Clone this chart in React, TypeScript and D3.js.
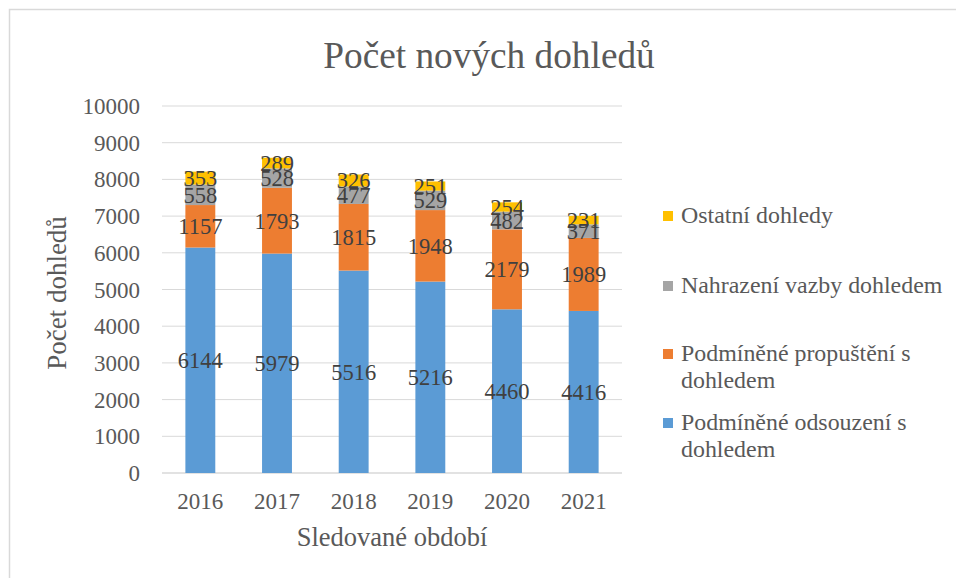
import React from "react";
import * as d3 from "d3";

const years = ["2016", "2017", "2018", "2019", "2020", "2021"];
const seriesNames = [
  "Podmíněné odsouzení s dohledem",
  "Podmíněné propuštění s dohledem",
  "Nahrazení vazby dohledem",
  "Ostatní dohledy",
];
const odsouzeni = [6144, 5979, 5516, 5216, 4460, 4416];
const propusteni = [1157, 1793, 1815, 1948, 2179, 1989];
const vazba = [558, 528, 477, 529, 482, 371];
const ostatni = [353, 289, 326, 251, 254, 231];
const yTicks = [0, 1000, 2000, 3000, 4000, 5000, 6000, 7000, 8000, 9000, 10000];
const colors = ["#5B9BD5", "#ED7D31", "#A5A5A5", "#FFC000"];
const legendLines = [
  ["Ostatní dohledy"],
  ["Nahrazení vazby dohledem"],
  ["Podmíněné propuštění s", "dohledem"],
  ["Podmíněné odsouzení s", "dohledem"],
];

const W = 956;
const H = 578;
const FONT = "'Liberation Serif', 'Times New Roman', serif";
const TXT = "#595959";

export default function App() {
  const values = [odsouzeni, propusteni, vazba, ostatni];
  const rows = years.map((y, i) => ({
    year: y,
    s0: values[0][i],
    s1: values[1][i],
    s2: values[2][i],
    s3: values[3][i],
  }));
  const stack = d3.stack<any>().keys(["s0", "s1", "s2", "s3"]);
  const stacked = stack(rows);

  const x = d3
    .scaleBand<string>()
    .domain(years)
    .range([162, 622])
    .paddingInner(0.61)
    .paddingOuter(0.305);
  const y = d3.scaleLinear().domain([0, 10000]).range([473, 106]);

  const legendY = [216, 286, 354, 423];

  return (
    <svg
      width={W}
      height={H}
      style={{ position: "absolute", left: 0, top: 0, background: "#fff" }}
      fontFamily={FONT}
    >
      <rect x={0} y={0} width={W} height={H} fill="#fff" />
      <rect x={9.5} y={9.5} width={1200} height={1200} fill="none" stroke="#D9D9D9" strokeWidth={1.5} />
      <text x={489} y={68} textAnchor="middle" fontSize={37.3} fill={TXT}>
        Počet nových dohledů
      </text>
      {yTicks.map((t) => (
        <g key={t}>
          <line
            x1={162}
            x2={622}
            y1={y(t)}
            y2={y(t)}
            stroke="#D9D9D9"
            strokeWidth={t === 0 ? 1.5 : 1}
          />
          <text x={140} y={y(t) + 8} textAnchor="end" fontSize={23} fill={TXT}>
            {t}
          </text>
        </g>
      ))}
      {stacked.map((layer, si) => (
        <g key={si}>
          {layer.map((d, i) => (
            <rect
              key={i}
              x={x(years[i])}
              width={x.bandwidth()}
              y={y(d[1])}
              height={y(d[0]) - y(d[1])}
              fill={colors[si]}
            />
          ))}
        </g>
      ))}
      {stacked.map((layer, si) => (
        <g key={"l" + si}>
          {layer.map((d, i) => (
            <text
              key={i}
              x={(x(years[i]) as number) + x.bandwidth() / 2}
              y={(y(d[0]) + y(d[1])) / 2 + 8}
              textAnchor="middle"
              fontSize={22.5}
              fill="#404040"
            >
              {values[si][i]}
            </text>
          ))}
        </g>
      ))}
      {years.map((yr) => (
        <text
          key={yr}
          x={(x(yr) as number) + x.bandwidth() / 2}
          y={509}
          textAnchor="middle"
          fontSize={23}
          fill={TXT}
        >
          {yr}
        </text>
      ))}
      <text x={392} y={546} textAnchor="middle" fontSize={26.5} fill={TXT}>
        Sledované období
      </text>
      <text
        transform={`translate(66, 293) rotate(-90)`}
        textAnchor="middle"
        fontSize={27}
        fill={TXT}
      >
        Počet dohledů
      </text>
      {legendLines.map((lines, li) => {
        const ci = 3 - li;
        return (
          <g key={li}>
            <rect x={663} y={legendY[li] - 5} width={10} height={10} fill={colors[ci]} />
            {lines.map((ln, k) => (
              <text key={k} x={681} y={legendY[li] + 7 + k * 27} fontSize={23.9} fill={TXT}>
                {ln}
              </text>
            ))}
          </g>
        );
      })}
    </svg>
  );
}
